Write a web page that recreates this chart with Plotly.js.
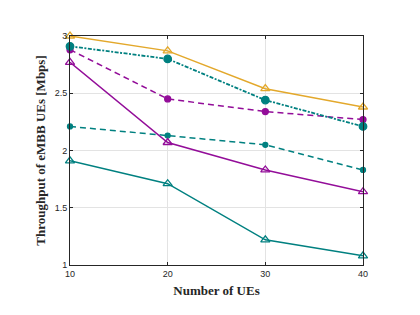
<!DOCTYPE html>
<html>
<head>
<meta charset="utf-8">
<script src="https://cdn.plot.ly/plotly-3.0.1.min.js"></script>
<style>html,body{margin:0;padding:0;background:#fff;}#plot{width:420px;height:315px;}</style>
</head>
<body>
<div id="plot"></div>
<script>
const ues = [10, 20, 30, 40];
const yellowSolid = [3.00, 2.87, 2.54, 2.38];
const tealDashDot = [2.91, 2.80, 2.44, 2.21];
const purpleDash = [2.88, 2.45, 2.34, 2.27];
const purpleSolid = [2.77, 2.07, 1.83, 1.64];
const tealDash = [2.21, 2.13, 2.05, 1.83];
const tealSolid = [1.91, 1.71, 1.22, 1.08];
const xTicks = [10, 20, 30, 40];
const yTicks = [1, 1.5, 2, 2.5, 3];
const yTickText = ['1', '1.5', '2', '2.5', '3'];

const YEL = '#E3A82B', TEAL = '#008080', PURP = '#930D99';

function tr(y, color, dash, symbol, size, width) {
  return {
    x: ues, y: y, type: 'scatter', mode: 'lines+markers',
    line: {color: color, width: width || 1.5, dash: dash},
    marker: {color: color, symbol: symbol, size: size, line: {color: color, width: 1.3}},
    showlegend: false, cliponaxis: false
  };
}

const data = [
  tr(tealSolid, TEAL, 'solid', 'triangle-up-open', 8),
  tr(tealDash, TEAL, '6px,4px', 'circle', 5),
  tr(purpleSolid, PURP, 'solid', 'triangle-up-open', 8),
  tr(purpleDash, PURP, '6px,4px', 'circle', 6),
  tr(tealDashDot, TEAL, '4px,1.5px,2px,1.5px', 'circle', 7.5, 1.8),
  tr(yellowSolid, YEL, 'solid', 'triangle-up-open', 8)
];

const axBase = {
  showline: true, linecolor: '#262626', linewidth: 1, mirror: 'ticks',
  ticks: 'inside', ticklen: 3, tickcolor: '#262626',
  showgrid: true, gridcolor: '#e3e3e3', gridwidth: 1, zeroline: false,
  tickfont: {family: 'Liberation Sans, Arial, sans-serif', size: 9, color: '#262626'}
};

const layout = {
  width: 420, height: 315,
  margin: {l: 70, r: 57, t: 36, b: 50},
  paper_bgcolor: '#fff', plot_bgcolor: '#fff',
  xaxis: Object.assign({}, axBase, {
    range: [10, 40], tickvals: xTicks,
    title: {text: 'Number of UEs', standoff: 8,
      font: {family: 'Liberation Serif, Times New Roman, serif', size: 13, color: '#262626', weight: 'bold'}}
  }),
  yaxis: Object.assign({}, axBase, {
    range: [1, 3], tickvals: yTicks, ticktext: yTickText,
    title: {text: 'Throughput of eMBB UEs [Mbps]', standoff: 6,
      font: {family: 'Liberation Serif, Times New Roman, serif', size: 13, color: '#262626', weight: 'bold'}}
  })
};

Plotly.newPlot('plot', data, layout, {displayModeBar: false, staticPlot: true});
</script>
</body>
</html>
